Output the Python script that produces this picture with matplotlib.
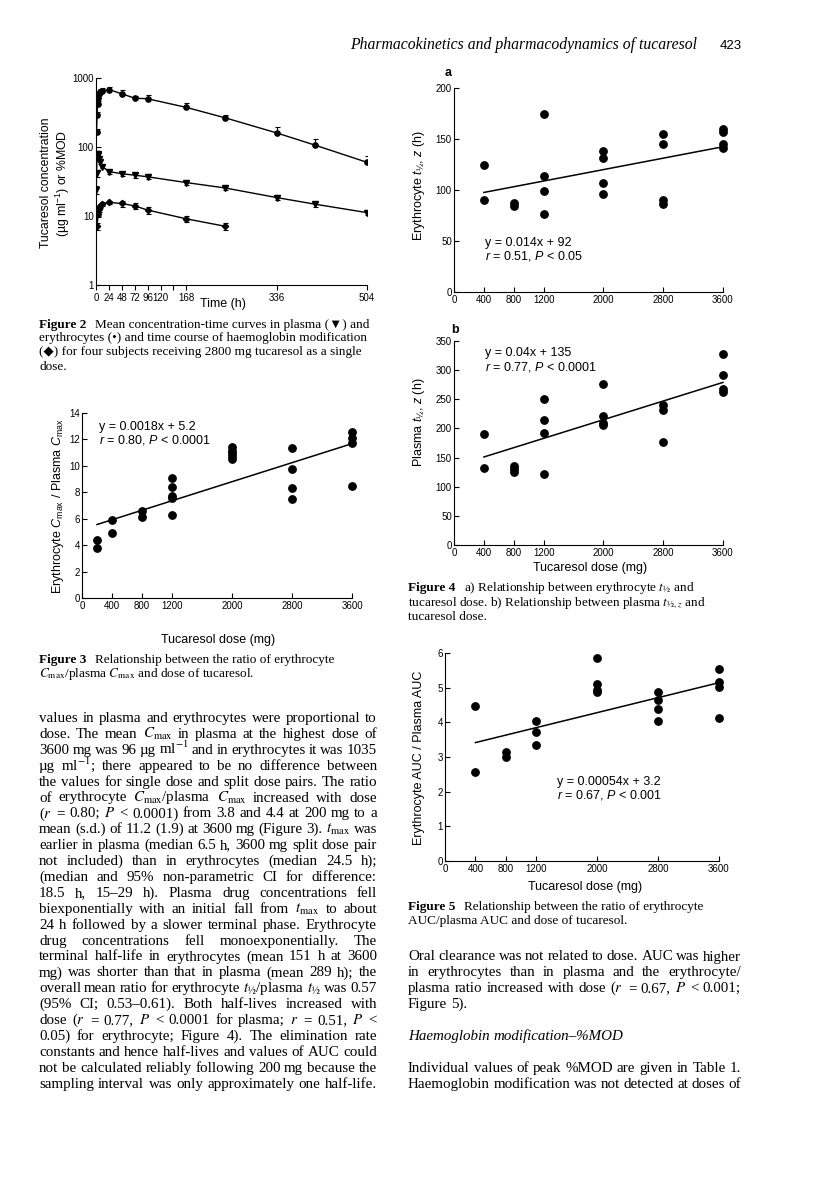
import matplotlib
matplotlib.use('Agg')
import matplotlib.pyplot as plt
from matplotlib.ticker import FixedLocator, FixedFormatter, NullLocator
import numpy as np

W, H = 816, 1177
SANS = ['Liberation Sans', 'DejaVu Sans']
SERIF = ['Liberation Serif', 'DejaVu Sans']

plt.rcParams['font.family'] = SANS
plt.rcParams['mathtext.fontset'] = 'custom'
plt.rcParams['mathtext.rm'] = 'Liberation Sans'
plt.rcParams['mathtext.it'] = 'Liberation Sans:italic'
plt.rcParams['mathtext.bf'] = 'Liberation Sans:bold'

# ---------------- data ----------------
# Figure 2: mean concentration-time curves (2800 mg)
time_ery = [1, 2, 3, 4, 6, 8, 12, 24, 48, 72, 96, 168, 240, 336, 408, 504]
conc_ery = [165, 290, 420, 520, 590, 630, 650, 680, 590, 510, 500, 375, 265, 160, 106, 60]
err_ery = [20, 30, 45, 60, 60, 60, 60, 60, 70, 45, 70, 55, 30, 35, 25, 15]
time_pla = [0.5, 1, 2, 3, 4, 6, 8, 12, 24, 48, 72, 96, 168, 240, 336, 408, 504]
conc_pla = [24, 42, 78, 80, 76, 68, 60, 52, 44, 41, 39, 37, 30.5, 25.5, 18.5, 14.8, 11.2]
err_pla = [3, 5, 6, 6, 6, 5, 4, 3, 3, 3, 3, 3, 2.5, 2, 1.5, 1.2, 1]
time_mod = [2, 4, 6, 8, 12, 24, 48, 72, 96, 168, 240]
conc_mod = [7.1, 10.8, 12.5, 14.0, 14.8, 15.7, 15.2, 14.0, 12.2, 9.1, 7.1]
err_mod = [0.8, 1.0, 1.0, 1.0, 1.0, 1.0, 1.5, 1.5, 1.5, 1.0, 0.8]
time_ticks = [0, 24, 48, 72, 96, 120, 144, 168, 336, 504]
time_labels = ['0', '24', '48', '72', '96', '120', '', '168', '336', '504']
conc_ticks = [1, 10, 100, 1000]
conc_labels = ['1', '10', '100', '1000']

# Figure 3: erythrocyte Cmax / plasma Cmax vs dose
dose_f3 = [200, 200, 400, 400, 800, 800, 1200, 1200, 1200, 1200, 1200,
           2000, 2000, 2000, 2000, 2000, 2800, 2800, 2800, 2800,
           3600, 3600, 3600, 3600]
ratio_f3 = [4.4, 3.8, 5.9, 4.95, 6.6, 6.1, 9.1, 8.4, 7.75, 7.6, 6.25,
            11.4, 11.15, 10.95, 10.75, 10.55, 11.35, 9.75, 8.35, 7.5,
            12.55, 12.1, 11.75, 8.5]
fit_f3 = (0.0018, 5.2, 200)

# Figure 4a: erythrocyte t1/2 vs dose
dose_f4a = [400, 400, 800, 800, 1200, 1200, 1200, 1200, 2000, 2000, 2000, 2000,
            2800, 2800, 2800, 2800, 3600, 3600, 3600, 3600]
thalf_ery = [125, 90, 87, 84, 175, 114, 99, 76, 138, 131, 107, 96,
             155, 145, 90, 86, 160, 157, 145, 141]
fit_f4a = (0.014, 92, 400)

# Figure 4b: plasma t1/2 vs dose
dose_f4b = [400, 400, 800, 800, 800, 1200, 1200, 1200, 1200, 2000, 2000, 2000, 2000,
            2800, 2800, 2800, 3600, 3600, 3600, 3600]
thalf_pla = [190, 132, 135, 130, 126, 251, 214, 192, 122, 277, 222, 210, 206,
             240, 231, 177, 328, 291, 267, 263]
fit_f4b = (0.04, 135, 400)

# Figure 5: erythrocyte AUC / plasma AUC vs dose
dose_f5 = [400, 400, 800, 800, 1200, 1200, 1200, 2000, 2000, 2000, 2000,
           2800, 2800, 2800, 2800, 3600, 3600, 3600, 3600]
auc_ratio = [4.48, 2.58, 3.15, 3.0, 4.05, 3.73, 3.35, 5.85, 5.1, 4.92, 4.87,
             4.88, 4.65, 4.39, 4.03, 5.55, 5.17, 5.02, 4.13]
fit_f5 = (0.00054, 3.2, 400)

dose_ticks = [0, 400, 800, 1200, 2000, 2800, 3600]

# ---------------- text ----------------
header = 'Pharmacokinetics and pharmacodynamics of tucaresol'
page_no = '423'

left_col = [
    "values in plasma and erythrocytes were proportional to",
    "dose. The mean $C_{\\mathrm{max}}$ in plasma at the highest dose of",
    "3600 mg was 96 \u00b5g ml$^{-1}$ and in erythrocytes it was 1035",
    "\u00b5g ml$^{-1}$; there appeared to be no difference between",
    "the values for single dose and split dose pairs. The ratio",
    "of erythrocyte $C_{\\mathrm{max}}$/plasma $C_{\\mathrm{max}}$ increased with dose",
    "($r$ = 0.80; $P$ < 0.0001) from 3.8 and 4.4 at 200 mg to a",
    "mean (s.d.) of 11.2 (1.9) at 3600 mg (Figure 3). $t_{\\mathrm{max}}$ was",
    "earlier in plasma (median 6.5 h, 3600 mg split dose pair",
    "not included) than in erythrocytes (median 24.5 h);",
    "(median and 95% non-parametric CI for difference:",
    "18.5 h, 15\u201329 h). Plasma drug concentrations fell",
    "biexponentially with an initial fall from $t_{\\mathrm{max}}$ to about",
    "24 h followed by a slower terminal phase. Erythrocyte",
    "drug concentrations fell monoexponentially. The",
    "terminal half-life in erythrocytes (mean 151 h at 3600",
    "mg) was shorter than that in plasma (mean 289 h); the",
    "overall mean ratio for erythrocyte $t_{\u00bd}$/plasma $t_{\u00bd}$ was 0.57",
    "(95% CI; 0.53\u20130.61). Both half-lives increased with",
    "dose ($r$ = 0.77, $P$ < 0.0001 for plasma; $r$ = 0.51, $P$ <",
    "0.05) for erythrocyte; Figure 4). The elimination rate",
    "constants and hence half-lives and values of AUC could",
    "not be calculated reliably following 200 mg because the",
    "sampling interval was only approximately one half-life.",
]

right_col = [
    (15, "Oral clearance was not related to dose. AUC was higher", True, 'normal'),
    (16, "in erythrocytes than in plasma and the erythrocyte/", True, 'normal'),
    (17, "plasma ratio increased with dose ($r$ = 0.67, $P$ < 0.001;", True, 'normal'),
    (18, "Figure 5).", False, 'normal'),
    (20, "Haemoglobin modification\u2013%MOD", False, 'italic'),
    (22, "Individual values of peak %MOD are given in Table 1.", True, 'normal'),
    (23, "Haemoglobin modification was not detected at doses of", True, 'normal'),
]

cap2 = ("Figure 2", ["Mean concentration-time curves in plasma (\u25bc) and",
                     "erythrocytes (\u2022) and time course of haemoglobin modification",
                     "(\u25c6) for four subjects receiving 2800 mg tucaresol as a single",
                     "dose."])
cap3 = ("Figure 3", ["Relationship between the ratio of erythrocyte",
                     "$C_{\\mathrm{max}}$/plasma $C_{\\mathrm{max}}$ and dose of tucaresol."])
cap4 = ("Figure 4", ["a) Relationship between erythrocyte $t_{\u00bd}$ and",
                     "tucaresol dose. b) Relationship between plasma $t_{\u00bd,z}$ and",
                     "tucaresol dose."])
cap5 = ("Figure 5", ["Relationship between the ratio of erythrocyte",
                     "AUC/plasma AUC and dose of tucaresol."])

# ---------------- drawing helpers ----------------
fig = plt.figure(figsize=(W / 100, H / 100), dpi=100)
fig.patch.set_facecolor('white')
R = fig.canvas.get_renderer()


def T(x, y, s, **kw):
    return fig.text(x / W, 1 - y / H, s, **kw)


def add_ax(l, r, t, b):
    return fig.add_axes([l / W, 1 - b / H, (r - l) / W, (b - t) / H])


def style(ax, xdir='in', ydir='in', lsize=7):
    ax.patch.set_visible(False)
    for s in ('top', 'right'):
        ax.spines[s].set_visible(False)
    for s in ('left', 'bottom'):
        ax.spines[s].set_linewidth(0.8)
    ax.tick_params(axis='x', direction=xdir, length=3.5, width=0.8, pad=2.5, labelsize=lsize)
    ax.tick_params(axis='y', direction=ydir, length=3.5, width=0.8, pad=1.5, labelsize=lsize)


def words_line(x0, x1, yb, line, size, justify=True, stylename='normal'):
    words = line.split(' ')
    objs = [T(0, yb, w, fontsize=size, family=SERIF, style=stylename,
              math_fontfamily='stix', ha='left', va='baseline') for w in words]
    widths = [o.get_window_extent(R).width for o in objs]
    if justify and len(objs) > 1:
        gap = max((x1 - x0 - sum(widths)) / (len(objs) - 1), 1.5)
    else:
        gap = size * 100 / 72 * 0.25
    x = x0
    for o, w in zip(objs, widths):
        o.set_x(x / W)
        x += w + gap


def caption(x0, yb0, cap, size=9.5, lead=14.0):
    label, lines = cap
    b = T(x0, yb0, label, fontsize=size, family=SERIF, weight='bold', va='baseline')
    wb = b.get_window_extent(R).width
    for i, ln in enumerate(lines):
        xs = x0 + wb + 9 if i == 0 else x0
        T(xs, yb0 + i * lead, ln, fontsize=size, family=SERIF,
          math_fontfamily='stix', va='baseline')


def dose_plot(l, r, t, b, xs, ys, ymax, ystep, fit):
    ax = add_ax(l, r, t, b)
    style(ax)
    ax.set_xlim(0, 3600)
    ax.set_ylim(0, ymax)
    ax.set_xticks(dose_ticks)
    ax.set_yticks(np.arange(0, ymax + ystep / 2, ystep))
    ax.plot(xs, ys, 'o', color='k', ms=5.3, clip_on=False, zorder=3)
    slope, icpt, x_from = fit
    xf = np.array([x_from, 3600])
    ax.plot(xf, slope * xf + icpt, color='k', lw=1.1, clip_on=False)
    return ax


# ---------------- header ----------------
T(697, 49, header, fontsize=11.3, family=SERIF, style='italic', ha='right', va='baseline')
T(720, 49, page_no, fontsize=9.5, family=SANS, ha='left', va='baseline')

# ---------------- Figure 2 ----------------
ax2 = add_ax(96, 367, 78, 285)
style(ax2, xdir='out', ydir='in', lsize=7)
ax2.set_yscale('log')
ax2.set_xlim(0, 504)
ax2.set_ylim(1, 1000)
ax2.xaxis.set_major_locator(FixedLocator(time_ticks))
ax2.xaxis.set_major_formatter(FixedFormatter(time_labels))
ax2.yaxis.set_major_locator(FixedLocator(conc_ticks))
ax2.yaxis.set_major_formatter(FixedFormatter(conc_labels))
ax2.yaxis.set_minor_locator(NullLocator())
ax2.errorbar(time_ery, conc_ery, yerr=[np.zeros(len(err_ery)), err_ery], fmt='-o',
             color='k', ms=3.8, lw=1.0, elinewidth=0.8, capsize=1.8, capthick=0.8)
ax2.errorbar(time_pla, conc_pla, yerr=err_pla, fmt='-v', color='k', ms=3.8, lw=1.0,
             elinewidth=0.8, capsize=1.8, capthick=0.8)
ax2.errorbar(time_mod, conc_mod, yerr=err_mod, fmt='-D', color='k', ms=3.2, lw=1.0,
             elinewidth=0.8, capsize=1.8, capthick=0.8)
T(223, 304, 'Time (h)', fontsize=9, ha='center', va='center')
T(56, 183, 'Tucaresol concentration\n(\u00b5g ml$^{-1}$) or %MOD', fontsize=8.8,
  rotation=90, ha='center', va='center', linespacing=1.15, multialignment='center')
caption(39, 327.5, cap2)

# ---------------- Figure 3 ----------------
dose_plot(82, 352, 413, 598, dose_f3, ratio_f3, 14, 2, fit_f3)
T(99, 427, 'y = 0.0018x + 5.2', fontsize=9, va='center')
T(99, 440, '$r$ = 0.80, $P$ < 0.0001', fontsize=9, va='center')
T(218, 640, 'Tucaresol dose (mg)', fontsize=9, ha='center', va='center')
T(58, 506, 'Erythrocyte $C_{\\mathrm{max}}$ / Plasma $C_{\\mathrm{max}}$', fontsize=9,
  rotation=90, ha='center', va='center')
caption(39, 663.5, cap3)

# ---------------- Figure 4a ----------------
dose_plot(454, 723, 88, 292, dose_f4a, thalf_ery, 200, 50, fit_f4a)
T(448, 73, 'a', fontsize=9, weight='bold', ha='center', va='center')
T(485, 243, 'y = 0.014x + 92', fontsize=9, va='center')
T(485, 256, '$r$ = 0.51, $P$ < 0.05', fontsize=9, va='center')
T(419, 186, 'Erythrocyte $t_{\u00bd}$, $z$ (h)', fontsize=9, rotation=90,
  ha='center', va='center')

# ---------------- Figure 4b ----------------
dose_plot(454, 723, 341, 545, dose_f4b, thalf_pla, 350, 50, fit_f4b)
T(455, 330, 'b', fontsize=9, weight='bold', ha='center', va='center')
T(485, 353, 'y = 0.04x + 135', fontsize=9, va='center')
T(485, 367, '$r$ = 0.77, $P$ < 0.0001', fontsize=9, va='center')
T(590, 568, 'Tucaresol dose (mg)', fontsize=9, ha='center', va='center')
T(419, 422, 'Plasma $t_{\u00bd}$, $z$ (h)', fontsize=9, rotation=90,
  ha='center', va='center')
caption(408, 591.5, cap4)

# ---------------- Figure 5 ----------------
dose_plot(445, 719, 653, 861, dose_f5, auc_ratio, 6, 1, fit_f5)
T(557, 782, 'y = 0.00054x + 3.2', fontsize=9, va='center')
T(557, 795, '$r$ = 0.67, $P$ < 0.001', fontsize=9, va='center')
T(585, 887, 'Tucaresol dose (mg)', fontsize=9, ha='center', va='center')
T(419, 758, 'Erythrocyte AUC / Plasma AUC', fontsize=9, rotation=90,
  ha='center', va='center')
caption(408, 910, cap5)

# ---------------- body text ----------------
BODY = 10.8
Y0, LEAD = 722.0, 15.9
for i, ln in enumerate(left_col):
    words_line(39, 377, Y0 + i * LEAD, ln, BODY, justify=True)
for idx, ln, just, st in right_col:
    words_line(408, 741, Y0 + idx * LEAD, ln, BODY, justify=just, stylename=st)

fig.savefig('out.png', dpi=100, facecolor='white')
